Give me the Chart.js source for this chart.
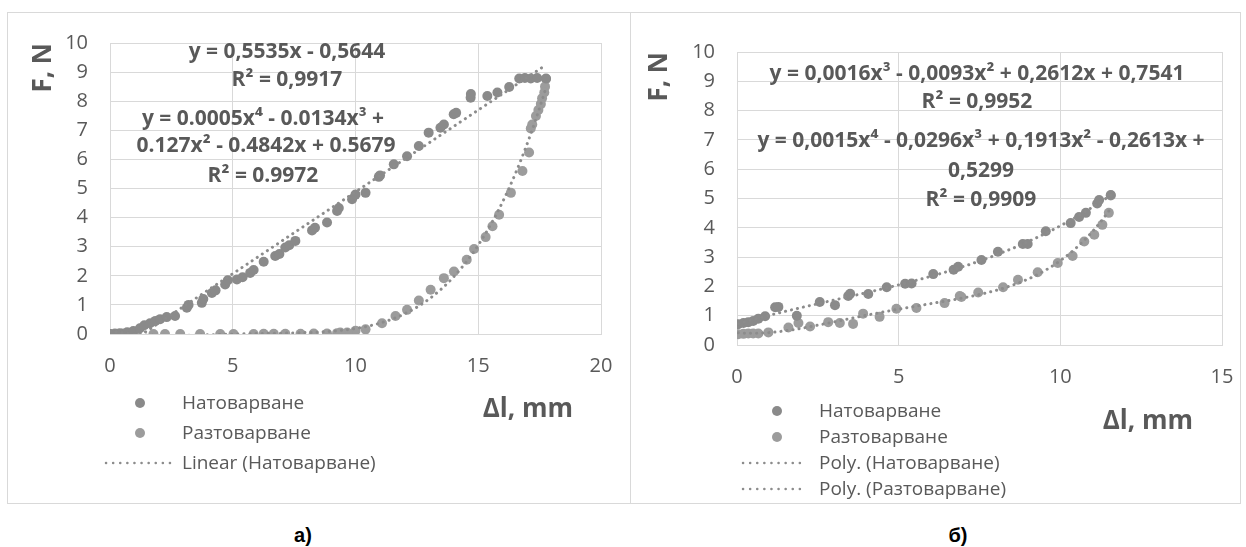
<!DOCTYPE html>
<html>
<head>
<meta charset="utf-8">
<script src="https://cdn.jsdelivr.net/npm/chart.js@4.4.1/dist/chart.umd.min.js"></script>
<style>
  body { margin: 0; background: #fff; width: 1246px; height: 547px; position: relative; overflow: hidden; }
  .panel { position: absolute; box-sizing: border-box; border: 1px solid #d9d9d9; }
  .panel canvas { display: block; }
  .caption { position: absolute; width: 60px; text-align: center; font: bold 20px "Liberation Sans", Arial, sans-serif; color: #000; }
</style>
</head>
<body>
<div class="panel" style="left:7px;top:12px;width:624px;height:492px"><canvas id="chartA" width="622" height="490"></canvas></div>
<div class="panel" style="left:630px;top:12px;width:611px;height:492px"><canvas id="chartB" width="609" height="490"></canvas></div>
<div class="caption" style="left:273px;top:524px">а)</div>
<div class="caption" style="left:928px;top:524px">б)</div>
<script>
// ---- chart a) ----
const loadAX = [0, 0.2, 0.4, 0.7, 0.95, 1.22, 1.4, 1.63, 1.85, 2.04, 2.31, 2.65, 3.13, 3.2, 3.74, 3.8, 4.15, 4.3, 4.69, 4.8,
  5.17, 5.4, 5.71, 5.85, 6.26, 6.73, 6.9, 7.14, 7.3, 7.55, 8.23, 8.35, 8.84, 9.25, 9.32, 9.86, 10.0, 10.41, 10.95, 11.0,
  11.56, 12.1, 12.58, 12.98, 13.46, 13.6, 14.0, 14.1, 14.69, 14.7, 15.37, 15.78, 16.26, 16.67, 16.9, 17.14, 17.4, 17.76];
const loadAY = [0, 0.02, 0.03, 0.06, 0.1, 0.2, 0.3, 0.37, 0.45, 0.51, 0.58, 0.62, 0.9, 1.0, 1.07, 1.2, 1.41, 1.5, 1.7, 1.85,
  1.87, 1.95, 2.1, 2.2, 2.48, 2.68, 2.75, 2.97, 3.05, 3.2, 3.56, 3.65, 3.83, 4.23, 4.33, 4.63, 4.79, 4.85, 5.4, 5.45,
  5.83, 6.11, 6.46, 6.92, 7.09, 7.2, 7.55, 7.6, 8.12, 8.25, 8.18, 8.3, 8.49, 8.78, 8.8, 8.78, 8.8, 8.78];
const unloadAX = [17.76, 17.72, 17.69, 17.6, 17.55, 17.45, 17.35, 17.2, 17.14, 17.07, 16.8, 16.33, 15.85, 15.58, 15.3,
  14.83, 14.53, 14.01, 13.6, 13.06, 12.58, 12.1, 11.63, 11.08, 10.41, 10.0, 9.66, 9.38, 9.25, 8.84, 8.3, 7.76, 7.14,
  6.67, 6.26, 5.85, 5.03, 4.49, 3.67, 2.86, 2.24, 1.77, 1.09, 0.54, 0];
const unloadAY = [8.76, 8.5, 8.3, 8.1, 7.9, 7.7, 7.49, 7.2, 7.06, 6.24, 5.6, 4.85, 4.1, 3.7, 3.33,
  2.92, 2.55, 2.15, 1.92, 1.52, 1.15, 0.83, 0.62, 0.37, 0.16, 0.11, 0.05, 0.05, 0.03, 0.02, 0.02, 0.01, 0.01,
  0.01, 0.01, 0, 0, 0, 0, 0, 0, 0, 0.05, 0.02, 0];
const xTicksA = [0, 5, 10, 15, 20];

// ---- chart б) ----
const loadBX = [0.04, 0.2, 0.35, 0.5, 0.66, 0.87, 1.18, 1.28, 1.85, 2.56, 3.03, 3.44, 3.5, 4.06, 4.63, 5.2, 5.4, 6.07,
  6.7, 6.84, 7.56, 8.07, 8.84, 8.99, 9.55, 10.32, 10.58, 10.79, 11.14, 11.2, 11.56];
const loadBY = [0.71, 0.75, 0.78, 0.82, 0.9, 0.98, 1.29, 1.3, 1.0, 1.47, 1.36, 1.67, 1.75, 1.74, 1.97, 2.09, 2.1, 2.42,
  2.57, 2.67, 2.9, 3.18, 3.45, 3.45, 3.88, 4.16, 4.37, 4.51, 4.83, 4.95, 5.12];
const unloadBX = [0.04, 0.2, 0.35, 0.5, 0.66, 0.97, 1.59, 1.9, 2.26, 2.82, 3.18, 3.59, 3.9, 4.41, 4.93, 5.55, 6.42,
  6.89, 6.94, 7.46, 8.23, 8.69, 9.3, 9.92, 10.38, 10.74, 11.05, 11.3, 11.5, 11.56];
const unloadBY = [0.37, 0.38, 0.39, 0.39, 0.39, 0.43, 0.6, 0.75, 0.63, 0.78, 0.75, 0.72, 1.07, 0.96, 1.24, 1.26, 1.43,
  1.67, 1.64, 1.79, 1.97, 2.23, 2.48, 2.8, 3.04, 3.53, 3.76, 4.1, 4.51, 5.1];
const xTicksB = [0, 5, 10, 15];

const yTicks = [0, 1, 2, 3, 4, 5, 6, 7, 8, 9, 10];

const GRAY_LOAD = "#8a8a8a";
const GRAY_UNLOAD = "#9c9c9c";
const GRAY_TREND = "#8c8c8c";
const TEXT = "#595959";
const FONT = '"Open Sans", "Noto Sans", sans-serif';

Chart.defaults.font.family = FONT;
Chart.defaults.color = TEXT;

const toPoints = (xs, ys) => xs.map((x, i) => ({ x: x, y: ys[i] }));

// least squares polynomial fit (like an Excel trendline)
function polyFit(xs, ys, deg) {
  const s = Math.max(...xs.map(Math.abs)) || 1;
  const n = deg + 1;
  const A = [];
  for (let r = 0; r < n; r++) A.push(new Array(n + 1).fill(0));
  xs.forEach((x, i) => {
    const u = x / s;
    for (let r = 0; r < n; r++) {
      for (let c = 0; c < n; c++) A[r][c] += Math.pow(u, r + c);
      A[r][n] += ys[i] * Math.pow(u, r);
    }
  });
  for (let c = 0; c < n; c++) {
    let p = c;
    for (let r = c + 1; r < n; r++) if (Math.abs(A[r][c]) > Math.abs(A[p][c])) p = r;
    [A[c], A[p]] = [A[p], A[c]];
    for (let r = 0; r < n; r++) {
      if (r === c) continue;
      const f = A[r][c] / A[c][c];
      for (let k = c; k <= n; k++) A[r][k] -= f * A[c][k];
    }
  }
  const coef = A.map((row, i) => row[n] / row[i]);
  return (x) => coef.reduce((sum, cf, k) => sum + cf * Math.pow(x / s, k), 0);
}

function trend(xs, ys, deg) {
  const f = polyFit(xs, ys, deg);
  const lo = Math.min(...xs), hi = Math.max(...xs);
  const pts = [];
  for (let i = 0; i <= 120; i++) {
    const x = lo + (hi - lo) * i / 120;
    pts.push({ x: x, y: f(x) });
  }
  return pts;
}

function pointSet(label, xs, ys, color) {
  return {
    label: label, data: toPoints(xs, ys), backgroundColor: color, borderColor: color,
    borderWidth: 0, pointRadius: 5, pointHoverRadius: 5, showLine: false, order: 2
  };
}

function trendSet(label, pts, inLegend) {
  return {
    label: label, data: pts, borderColor: GRAY_TREND, backgroundColor: GRAY_TREND,
    borderWidth: 3, borderDash: [0.1, 6], borderCapStyle: "round", pointRadius: 0,
    showLine: true, tension: 0, order: 1, inLegend: inLegend
  };
}

// draws equation labels, x title and the vertical Excel-style legend
const excelExtras = {
  id: "excelExtras",
  afterDraw(chart, args, opts) {
    const ctx = chart.ctx;
    const area = chart.chartArea;
    ctx.save();
    ctx.fillStyle = TEXT;
    ctx.textBaseline = "middle";

    ctx.textAlign = "center";
    ctx.font = "bold 21px " + FONT;
    opts.notes.forEach((n) => ctx.fillText(n.text, n.x, n.y));

    ctx.textAlign = "right";
    ctx.font = "bold 26px " + FONT;
    ctx.fillText(opts.xTitle, area.right + opts.xTitleDx, area.bottom + opts.xTitleDy);

    ctx.textAlign = "left";
    ctx.font = "19px " + FONT;
    const items = chart.data.datasets.filter((d) => d.inLegend !== false);
    const lg = opts.legend;
    items.forEach((d, i) => {
      const y = lg.rows[i];
      if (d.showLine) {
        ctx.save();
        ctx.strokeStyle = d.borderColor;
        ctx.lineWidth = 2.5;
        ctx.lineCap = "round";
        ctx.setLineDash([0.1, 7]);
        ctx.beginPath();
        ctx.moveTo(lg.lineX0, y);
        ctx.lineTo(lg.lineX1, y);
        ctx.stroke();
        ctx.restore();
      } else {
        ctx.beginPath();
        ctx.fillStyle = d.backgroundColor;
        ctx.arc(lg.markerX, y, 5, 0, Math.PI * 2);
        ctx.fill();
      }
      ctx.fillStyle = TEXT;
      ctx.fillText(d.label, lg.textX, y + 1);
    });
    ctx.restore();
  }
};

function makeChart(id, datasets, xMax, xTicks, pad, axisW, axisH, extras) {
  return new Chart(document.getElementById(id), {
    type: "scatter",
    data: { datasets: datasets },
    plugins: [excelExtras],
    options: {
      responsive: false,
      animation: false,
      layout: { padding: pad },
      plugins: {
        legend: { display: false },
        tooltip: { enabled: false },
        excelExtras: extras
      },
      scales: {
        x: {
          type: "linear", min: 0, max: xMax,
          afterBuildTicks: (s) => { s.ticks = xTicks.map((v) => ({ value: v })); },
          afterFit: (s) => { s.height = axisH; s.paddingLeft = 0; s.paddingRight = 0; },
          grid: { color: "#d9d9d9", drawTicks: false },
          border: { color: "#d9d9d9" },
          ticks: { padding: 20, font: { size: 20 }, color: TEXT }
        },
        y: {
          type: "linear", min: 0, max: 10,
          afterBuildTicks: (s) => { s.ticks = yTicks.map((v) => ({ value: v })); },
          afterFit: (s) => { s.width = axisW; s.paddingTop = 0; s.paddingBottom = 0; },
          grid: { color: "#d9d9d9", drawTicks: false },
          border: { color: "#d9d9d9" },
          ticks: { padding: 22, font: { size: 20 }, color: TEXT },
          title: {
            display: true, text: "F, N", align: "end", color: TEXT,
            font: { size: 26, weight: "bold" }, padding: { top: 0, bottom: 0 }
          }
        }
      }
    }
  });
}

makeChart("chartA", [
  pointSet("Натоварване", loadAX, loadAY, GRAY_LOAD),
  pointSet("Разтоварване", unloadAX, unloadAY, GRAY_UNLOAD),
  trendSet("Linear (Натоварване)", trend(loadAX, loadAY, 1), true),
  trendSet("Poly. (Разтоварване)", trend(unloadAX, unloadAY, 4), false)
], 20, xTicksA, { left: 20, right: 29, top: 30, bottom: 69 }, 82, 100, {
  notes: [
    { text: "y = 0,5535x - 0,5644", x: 279, y: 39 },
    { text: "R² = 0,9917", x: 279, y: 67 },
    { text: "y = 0.0005x⁴ - 0.0134x³ +", x: 255, y: 106 },
    { text: "0.127x² - 0.4842x + 0.5679", x: 258, y: 133 },
    { text: "R² = 0.9972", x: 255, y: 163 }
  ],
  xTitle: "Δl, mm", xTitleDx: -28, xTitleDy: 76,
  legend: { rows: [390, 420, 450], markerX: 132, textX: 174, lineX0: 98, lineX1: 164 }
});

makeChart("chartB", [
  pointSet("Натоварване", loadBX, loadBY, GRAY_LOAD),
  pointSet("Разтоварване", unloadBX, unloadBY, GRAY_UNLOAD),
  trendSet("Poly. (Натоварване)", trend(loadBX, loadBY, 3), true),
  trendSet("Poly. (Разтоварване)", trend(unloadBX, unloadBY, 4), true)
], 15, xTicksB, { left: 13, right: 18, top: 39, bottom: 58 }, 93, 100, {
  notes: [
    { text: "y = 0,0016x³ - 0,0093x² + 0,2612x + 0,7541", x: 346, y: 61 },
    { text: "R² = 0,9952", x: 346, y: 89 },
    { text: "y = 0,0015x⁴ - 0,0296x³ + 0,1913x² - 0,2613x +", x: 350, y: 128 },
    { text: "0,5299", x: 350, y: 158 },
    { text: "R² = 0,9909", x: 350, y: 187 }
  ],
  xTitle: "Δl, mm", xTitleDx: -29, xTitleDy: 77,
  legend: { rows: [398, 424, 450, 476], markerX: 146, textX: 188, lineX0: 112, lineX1: 173 }
});
</script>
</body>
</html>
